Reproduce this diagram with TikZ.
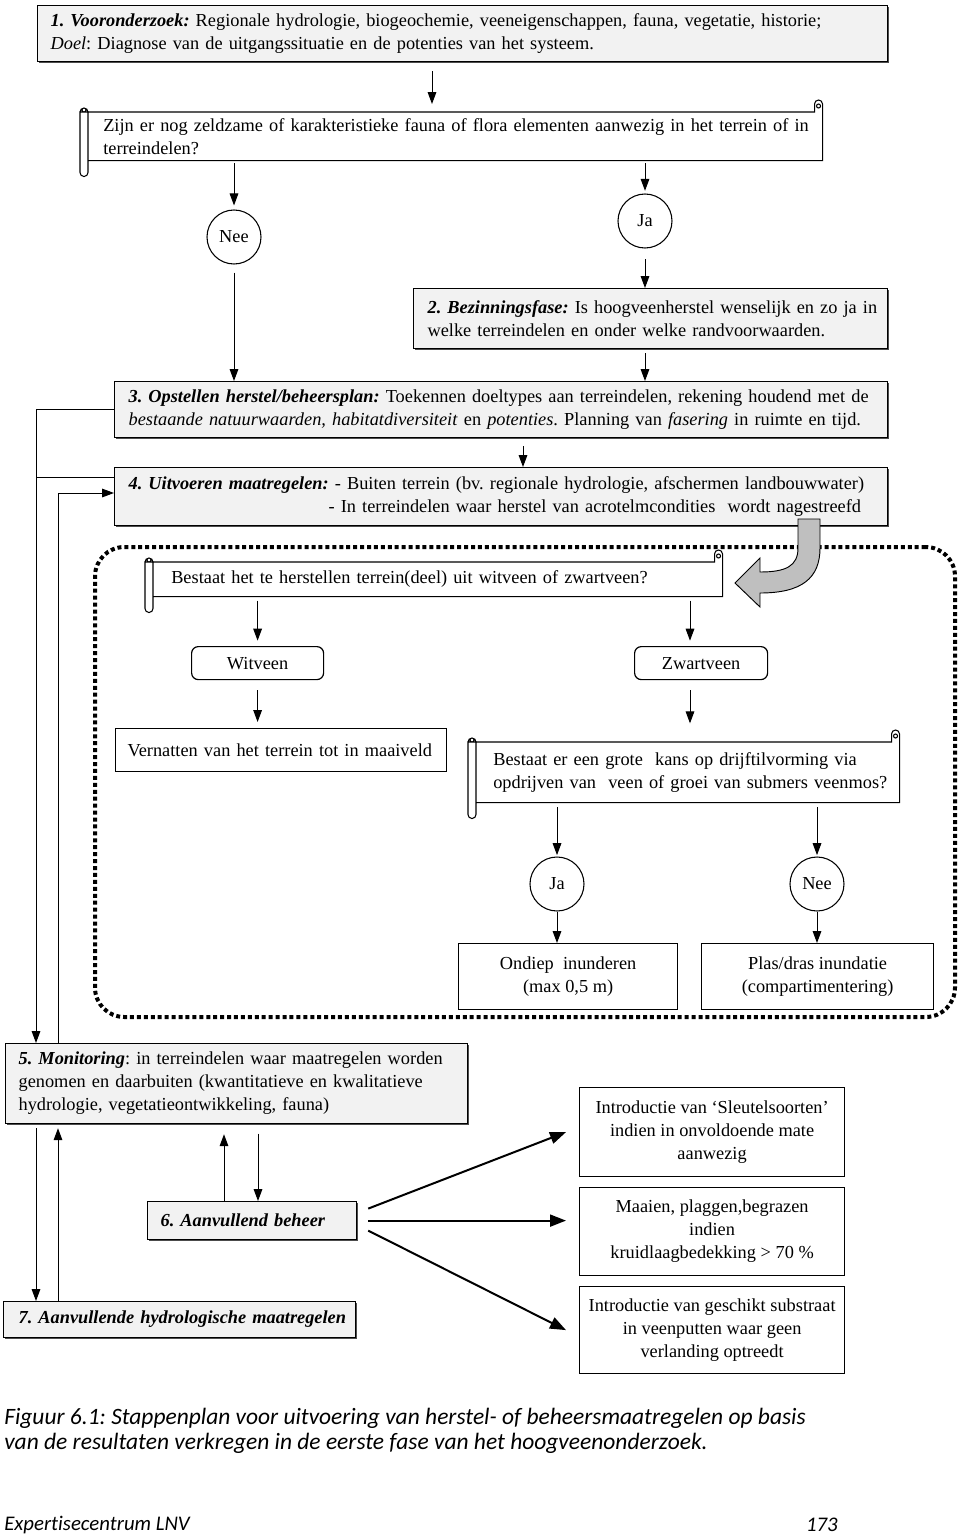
\documentclass[tikz,border=0pt]{standalone}
\usepackage{fontspec}
\setmainfont{Liberation Serif}
\newfontfamily\capfont[Ligatures={NoCommon}]{Carlito}
\usetikzlibrary{arrows.meta,calc,shadows}
\definecolor{boxgray}{HTML}{F2F2F2}
\definecolor{arrgray}{HTML}{BFBFBF}
\newcommand\fs{\fontsize{13.75pt}{17.25pt}\selectfont}
\newcommand\bi[1]{\textbf{\textit{#1}}}
\newcommand\lm[1]{\mbox{#1}}
\newcommand\scrollframe[1]{%
 \draw[scr] let \p1=(#1.north west), \p2=(#1.south east) in
  (\x1,\y1) -- (\x2-6pt,\y1) -- (\x2-6pt,\y1+6pt)
  arc[start angle=180,end angle=0,radius=3pt] -- (\x2,\y2) -- (\x1,\y2)
  (\x1,\y1) -- (\x1-6pt,\y1) -- (\x1-6pt,\y2-9pt)
  arc[start angle=180,end angle=360,radius=3pt] -- (\x1,\y1)
  (\x1-6pt,\y1) arc[start angle=180,end angle=0,radius=3pt]
  (\x2-3pt,\y1+4.5pt) circle[radius=1.5pt]
  (\x1-3pt,\y1+1.5pt) circle[radius=1.5pt];
}
\frenchspacing
\begin{document}
\frenchspacing
\begin{tikzpicture}[x=0.75pt,y=-0.75pt,
  nb/.style={font=\fs\frenchspacing, anchor=north west, inner ysep=0pt},
  gbox/.style={nb, draw, line width=0.9pt, fill=boxgray, align=left,
    drop shadow={shadow xshift=1.2pt, shadow yshift=-1.2pt, fill=black, opacity=0.7}},
  tbox/.style={nb, align=left},
  wbox/.style={nb, draw, line width=0.9pt, align=center, inner xsep=0pt},
  rbox/.style={wbox, rounded corners=5pt},
  circ/.style={circle, draw, line width=0.8pt, minimum size=40.5pt, inner sep=0pt, font=\fs},
  arr/.style={-{Triangle[length=9pt,width=6.5pt]}, line width=0.75pt},
  barr/.style={-{Triangle[length=12pt,width=9pt]}, line width=1.5pt},
  scr/.style={line width=0.8pt},
  frm/.style={draw, line width=3pt, dash pattern=on 3pt off 2.2pt, rounded corners=22pt, anchor=north west, inner sep=0pt},
]
\useasboundingbox (0,0) rectangle (960,1535);

% helper x positions
\coordinate (xA) at (432,0);
\coordinate (xB) at (523,0);
\coordinate (xL) at (36,0);
\coordinate (xM) at (58,0);
\coordinate (xZ) at (690,0);
\coordinate (xP) at (224,0);
\coordinate (xQ) at (258,0);

% dotted frame
\node[frm, minimum width=645pt, minimum height=352.5pt] (frame) at (93,545) {};

% step 1
\node[gbox, minimum width=637.5pt, minimum height=42pt, text width=618pt, inner xsep=9.75pt] (b1) at (37,5)
 {\lm{\bi{1. Vooronderzoek:} Regionale hydrologie, biogeochemie, veeneigenschappen, fauna, vegetatie, historie;}\\
  \lm{\textit{Doel}: Diagnose van de uitgangssituatie en de potenties van het systeem.}};

% scroll question 1
\node[tbox, minimum width=550.5pt, minimum height=36pt, text width=528pt, inner xsep=11.25pt] (s1) at (88,112)
 {\lm{Zijn er nog zeldzame of karakteristieke fauna of flora elementen aanwezig in het terrein of in}\\\lm{terreindelen?}};
\scrollframe{s1}

\node[circ] (nee1) at (234,237) {Nee};
\node[circ] (ja1) at (645,221) {Ja};

\node[gbox, minimum width=355.5pt, minimum height=45pt, text width=334.5pt, inner xsep=10.5pt] (b2) at (413,288)
 {\lm{\bi{2. Bezinningsfase:} Is hoogveenherstel wenselijk en zo ja in}\\\lm{welke terreindelen en onder welke randvoorwaarden.}};

\node[gbox, minimum width=579.75pt, minimum height=42pt, text width=558.75pt, inner xsep=10.5pt] (b3) at (114,381)
 {\lm{\bi{3. Opstellen herstel/beheersplan:} Toekennen doeltypes aan terreindelen, rekening houdend met de}\\
  \lm{\textit{bestaande natuurwaarden, habitatdiversiteit} en \textit{potenties}. Planning van \textit{fasering} in ruimte en tijd.}};

\node[gbox, minimum width=579.75pt, minimum height=43.5pt, text width=558.75pt, inner xsep=10.5pt] (b4) at (114,467)
 {\lm{\bi{4. Uitvoeren maatregelen:} - Buiten terrein (bv. regionale hydrologie, afschermen landbouwwater)}\\
  \lm{\hspace*{150pt}- In terreindelen waar herstel van acrotelmcondities\ \ wordt nagestreefd}};

% inner part
\node[tbox, minimum width=426.75pt, minimum height=25.5pt, text width=399.75pt, inner xsep=13.5pt] (s2) at (153,562)
 {\lm{Bestaat het te herstellen terrein(deel) uit witveen of zwartveen?}};
\scrollframe{s2}

\node[rbox, minimum width=99pt, minimum height=24.75pt] (wit) at (191,646) {Witveen};
\node[rbox, minimum width=99.75pt, minimum height=24.75pt] (zwart) at (634,646) {Zwartveen};

\node[wbox, align=left, minimum width=248.25pt, minimum height=32.25pt, text width=230.25pt, inner xsep=9pt] (vern) at (115,728)
 {\lm{Vernatten van het terrein tot in maaiveld}};

\node[tbox, minimum width=317.25pt, minimum height=45pt, text width=291.75pt, inner xsep=12.75pt] (s3) at (476,742)
 {\lm{Bestaat er een grote\ \ kans op drijftilvorming via}\\\lm{opdrijven van\ \ veen of groei van submers veenmos?}};
\scrollframe{s3}

\node[circ] (ja2) at (557,884) {Ja};
\node[circ] (nee2) at (817,884) {Nee};

\node[wbox, minimum width=164.25pt, minimum height=49.5pt] (ond) at (458,943) {Ondiep\ \ inunderen\\(max 0,5 m)};
\node[wbox, minimum width=174pt, minimum height=49.5pt] (plas) at (701,943) {Plas/dras inundatie\\(compartimentering)};

% lower part
\node[gbox, minimum width=346.5pt, minimum height=60pt, text width=327pt, inner xsep=9.75pt] (b5) at (5,1043)
 {\lm{\bi{5. Monitoring}: in terreindelen waar maatregelen worden}\\
  \lm{genomen en daarbuiten (kwantitatieve en kwalitatieve}\\
  \lm{hydrologie, vegetatieontwikkeling, fauna)}};

\node[gbox, minimum width=156.75pt, minimum height=28.5pt, text width=137.25pt, inner xsep=9.75pt] (b6) at (147,1201)
 {\lm{\bi{6. Aanvullend beheer}}};

\node[gbox, minimum width=264pt, minimum height=27pt, text width=241.5pt, inner xsep=11.25pt] (b7) at (3,1301)
 {\lm{\bi{7. Aanvullende hydrologische maatregelen}}};

\node[wbox, minimum width=198.75pt, minimum height=66.75pt] (A) at (579,1087)
 {Introductie van `Sleutelsoorten'\\indien in onvoldoende mate\\aanwezig};
\node[wbox, minimum width=198.75pt, minimum height=66pt] (B) at (579,1187)
 {Maaien, plaggen,begrazen\\indien\\kruidlaagbedekking > 70 \%};
\node[wbox, minimum width=198.75pt, minimum height=65.25pt] (C) at (579,1286)
 {Introductie van geschikt substraat\\in veenputten waar geen\\verlanding optreedt};

% connectors
\draw[arr, shorten <=6.75pt, shorten >=6pt] (b1.south -| xA) -- (s1.north -| xA);
\draw[arr, shorten <=2pt, shorten >=3pt] (s1.south -| nee1) -- (nee1.north);
\draw[arr, shorten <=2pt, shorten >=2pt] (s1.south -| ja1) -- (ja1.north);
\draw[arr, shorten <=8pt] (ja1.south) -- (b2.north -| ja1);
\draw[arr, shorten <=6pt] (nee1.south) -- (b3.north -| nee1);
\draw[arr, shorten <=3pt] (b2.south -| ja1) -- (b3.north -| ja1);
\draw[arr, shorten <=6pt] (b3.south -| xB) -- (b4.north -| xB);

\draw[arr] (b3.west) -| (b5.north -| xL);
\draw ([yshift=-7.5pt]b4.north west) -- ([yshift=-7.5pt]b4.north west -| xL);
\draw[arr] (b5.north -| xM) |- ([yshift=-19.5pt]b4.north west);

% curved block arrow from step 4 into the inner part
\draw[line width=0.7pt, fill=arrgray] (798,519) -- (798,548) .. controls (798,566) and (786,572) .. (760,572)
  -- (760,558) -- (735,583) -- (760,607) -- (760,593) .. controls (802,593) and (820,578) .. (820,548) -- (820,519) -- cycle;

\draw[arr, shorten <=3pt, shorten >=4pt] (s2.south -| wit) -- (wit.north);
\draw[arr, shorten <=3pt, shorten >=4pt] (s2.south -| xZ) -- (zwart.north -| xZ);
\draw[arr, shorten <=7.5pt, shorten >=4.5pt] (wit.south) -- (vern.north -| wit);
\draw[arr, shorten <=7.5pt, shorten >=14pt] (zwart.south -| xZ) -- (s3.north -| xZ);
\draw[arr, shorten <=3.5pt, shorten >=1pt] (s3.south -| ja2) -- (ja2.north);
\draw[arr, shorten <=3.5pt, shorten >=1pt] (s3.south -| nee2) -- (nee2.north);
\draw[arr] (ja2.south) -- (ond.north -| ja2);
\draw[arr] (nee2.south) -- (plas.north -| nee2);

\draw[arr, shorten <=3pt] (b5.south -| xL) -- (b7.north -| xL);
\draw[arr, shorten >=3pt] (b7.north -| xM) -- (b5.south -| xM);
\draw[arr, shorten >=7.5pt] (b6.north -| xP) -- (b5.south -| xP);
\draw[arr, shorten <=7pt] (b5.south -| xQ) -- (b6.north -| xQ);

\draw[barr] ([shift={(8.25pt,9pt)}]b6.east) -- ([xshift=-9.75pt]A.west);
\draw[barr] ([xshift=8.25pt]b6.east) -- ([xshift=-9.75pt]B.west |- b6.east);
\draw[barr] ([shift={(8.25pt,-7.5pt)}]b6.east) -- ([xshift=-9.75pt]C.west);

% caption and footer
\node[anchor=north west, align=left, inner sep=0pt, font=\capfont\itshape\fontsize{17.6pt}{18.75pt}\selectfont] (cap) at (4,1408)
 {Figuur 6.1: Stappenplan voor uitvoering van herstel- of beheersmaatregelen op basis\\
  van de resultaten verkregen in de eerste fase van het hoogveenonderzoek.};
\node[anchor=west, inner sep=0pt, font=\capfont\itshape\fontsize{15.6pt}{18pt}\selectfont] (foot) at (4,1525) {Expertisecentrum LNV};
\node[anchor=east, inner sep=0pt, font=\capfont\itshape\fontsize{15.6pt}{18pt}\selectfont] (page) at (838,1525) {173};
\end{tikzpicture}
\end{document}
